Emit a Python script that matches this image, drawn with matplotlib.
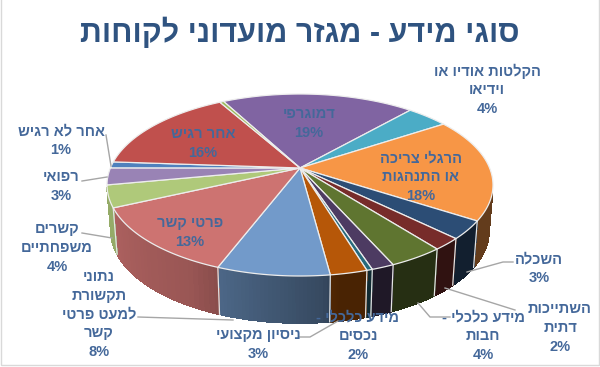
import numpy as np
from matplotlib import pyplot as plt
from matplotlib.colors import to_rgb
from matplotlib.patches import Rectangle

title = 'סוגי מידע - מגזר מועדוני לקוחות'

# slices clockwise, starting from the demographic one
names = ['דמוגרפי', 'הקלטות אודיו או\nוידיאו', 'הרגלי צריכה\nאו התנהגות', 'השכלה',
         'השתייכות\nדתית', 'מידע כלכלי -\nחבות', 'מידע כלכלי -\nנכסים', '',
         'ניסיון מקצועי', 'נתוני\nתקשורת\nלמעט פרטי\nקשר', 'פרטי קשר',
         'קשרים\nמשפחתיים', 'רפואי', 'אחר לא רגיש', 'אחר רגיש', '']
values = [19.3, 4.2, 18.4, 3.2, 2.1, 3.9, 1.6, 0.4, 2.6, 7.9, 12.3, 3.9, 3.0, 1.1, 15.7, 0.4]
percents = ['19%', '4%', '18%', '3%', '2%', '4%', '2%', '', '3%', '8%', '13%', '4%', '3%', '1%', '16%', '']
colors = ['#8064A2', '#4BACC6', '#F79646', '#2C4D75', '#772C2A', '#5F7530', '#4D3B62', '#276A7C',
          '#B65708', '#729ACA', '#CD7371', '#AFC97A', '#9983B5', '#4F81BD', '#C0504D', '#9BBB59']

# label centres in pixels (x, y of first line)
label_pos = [(309, 114), (487, 71), (421, 158), (539, 259), (560, 309), (483, 317), (358, 317), None,
             (258, 335), (99, 277), (190, 223), (57, 229), (61, 177), (61, 131), (203, 134), None]
leaders = [[(106, 135), (111, 166)],
           [(82, 181), (107, 177)],
           [(82, 233), (112, 238)],
           [(138, 317), (233, 320)],
           [(300, 337), (310, 337), (338, 321)],
           [(450, 317), (430, 317), (418, 303)],
           [(515, 310), (445, 288)],
           [(513, 262), (503, 262), (467, 272)]]

start = -28.0
cx, cy, rx, ry = 300, 185, 193, 91
bcx, bcy, brx, bry = 300, 231, 189, 92
b = 0.187
text_color = '#44689A'
font = 'Liberation Sans'


def rtl(s):
    # matplotlib has no bidi, so the hebrew goes in reversed
    return '\n'.join(line[::-1] for line in s.split('\n'))


def project(deg, r, x0, y0, w, h):
    # perspective of the round pie, the apex sits above the ellipse centre
    t = np.radians(deg)
    u = r * np.sin(t)
    v = r * np.cos(t)
    d = 1 + b * v
    return x0 + w * u * np.sqrt(1 - b * b) / d, y0 - h * (v + b) / d


fig = plt.figure(figsize=[6, 3.67], dpi=100)
ax = fig.add_axes([0, 0, 1, 1])
ax.set_xlim(0, 600)
ax.set_ylim(367, 0)
ax.axis('off')
ax.add_patch(Rectangle((0.5, -2), 598, 367, fill=False, ec='#D9D9D9', lw=1))

edges = start + np.cumsum([0] + values) * 360 / sum(values)

# side wall, darker towards the right
for i in range(len(values)):
    a = np.linspace(edges[i], edges[i + 1], 30)
    for a0, a1 in zip(a[:-1], a[1:]):
        m = (a0 + a1) / 2 % 360
        if m < 105 or m > 258:
            continue
        f = np.interp(m, [170, 175, 200, 210, 250], [0.4, 0.48, 0.66, 0.75, 0.85])
        c = np.array(to_rgb(colors[i])) * f
        x0, y0 = project(a0, 1, cx, cy, rx, ry)
        x1, y1 = project(a1, 1, cx, cy, rx, ry)
        x2, y2 = project(a1, 1, bcx, bcy, brx, bry)
        x3, y3 = project(a0, 1, bcx, bcy, brx, bry)
        ax.fill([x0, x1, x2, x3], [y0, y1, y2, y3], color=c, lw=0.6, antialiased=False, zorder=2)
    m = edges[i] % 360
    if 105 < m < 258:
        x0, y0 = project(edges[i], 1, cx, cy, rx, ry)
        x3, y3 = project(edges[i], 1, bcx, bcy, brx, bry)
        ax.plot([x0, x3], [y0, y3], color='#E4E4E4', lw=0.9, zorder=3)

# top face
for i in range(len(values)):
    a = np.linspace(edges[i], edges[i + 1], 60)
    x, y = project(a, 1, cx, cy, rx, ry)
    ax0, ay0 = project(0.0, 0, cx, cy, rx, ry)
    ax.fill(np.r_[ax0, x], np.r_[ay0, y], fc=colors[i], ec='#EDEDED', lw=0.9, zorder=4)

for pts in leaders:
    ax.plot([p[0] for p in pts], [p[1] for p in pts], color='#A6A6A6', lw=1, zorder=5)

for name, pct, pos in zip(names, percents, label_pos):
    if pos is None:
        continue
    lines = rtl(name).split('\n') + [pct]
    for n, line in enumerate(lines):
        ax.text(pos[0], pos[1] + n * 18.8, line, color=text_color, family=font, weight='bold',
                fontsize=10.5, ha='center', va='center', zorder=6)

ax.text(300, 33, rtl(title), color='#2F5380', family=font, weight='bold', fontsize=22,
        ha='center', va='center', zorder=6)

plt.savefig('out.png', dpi=100)
